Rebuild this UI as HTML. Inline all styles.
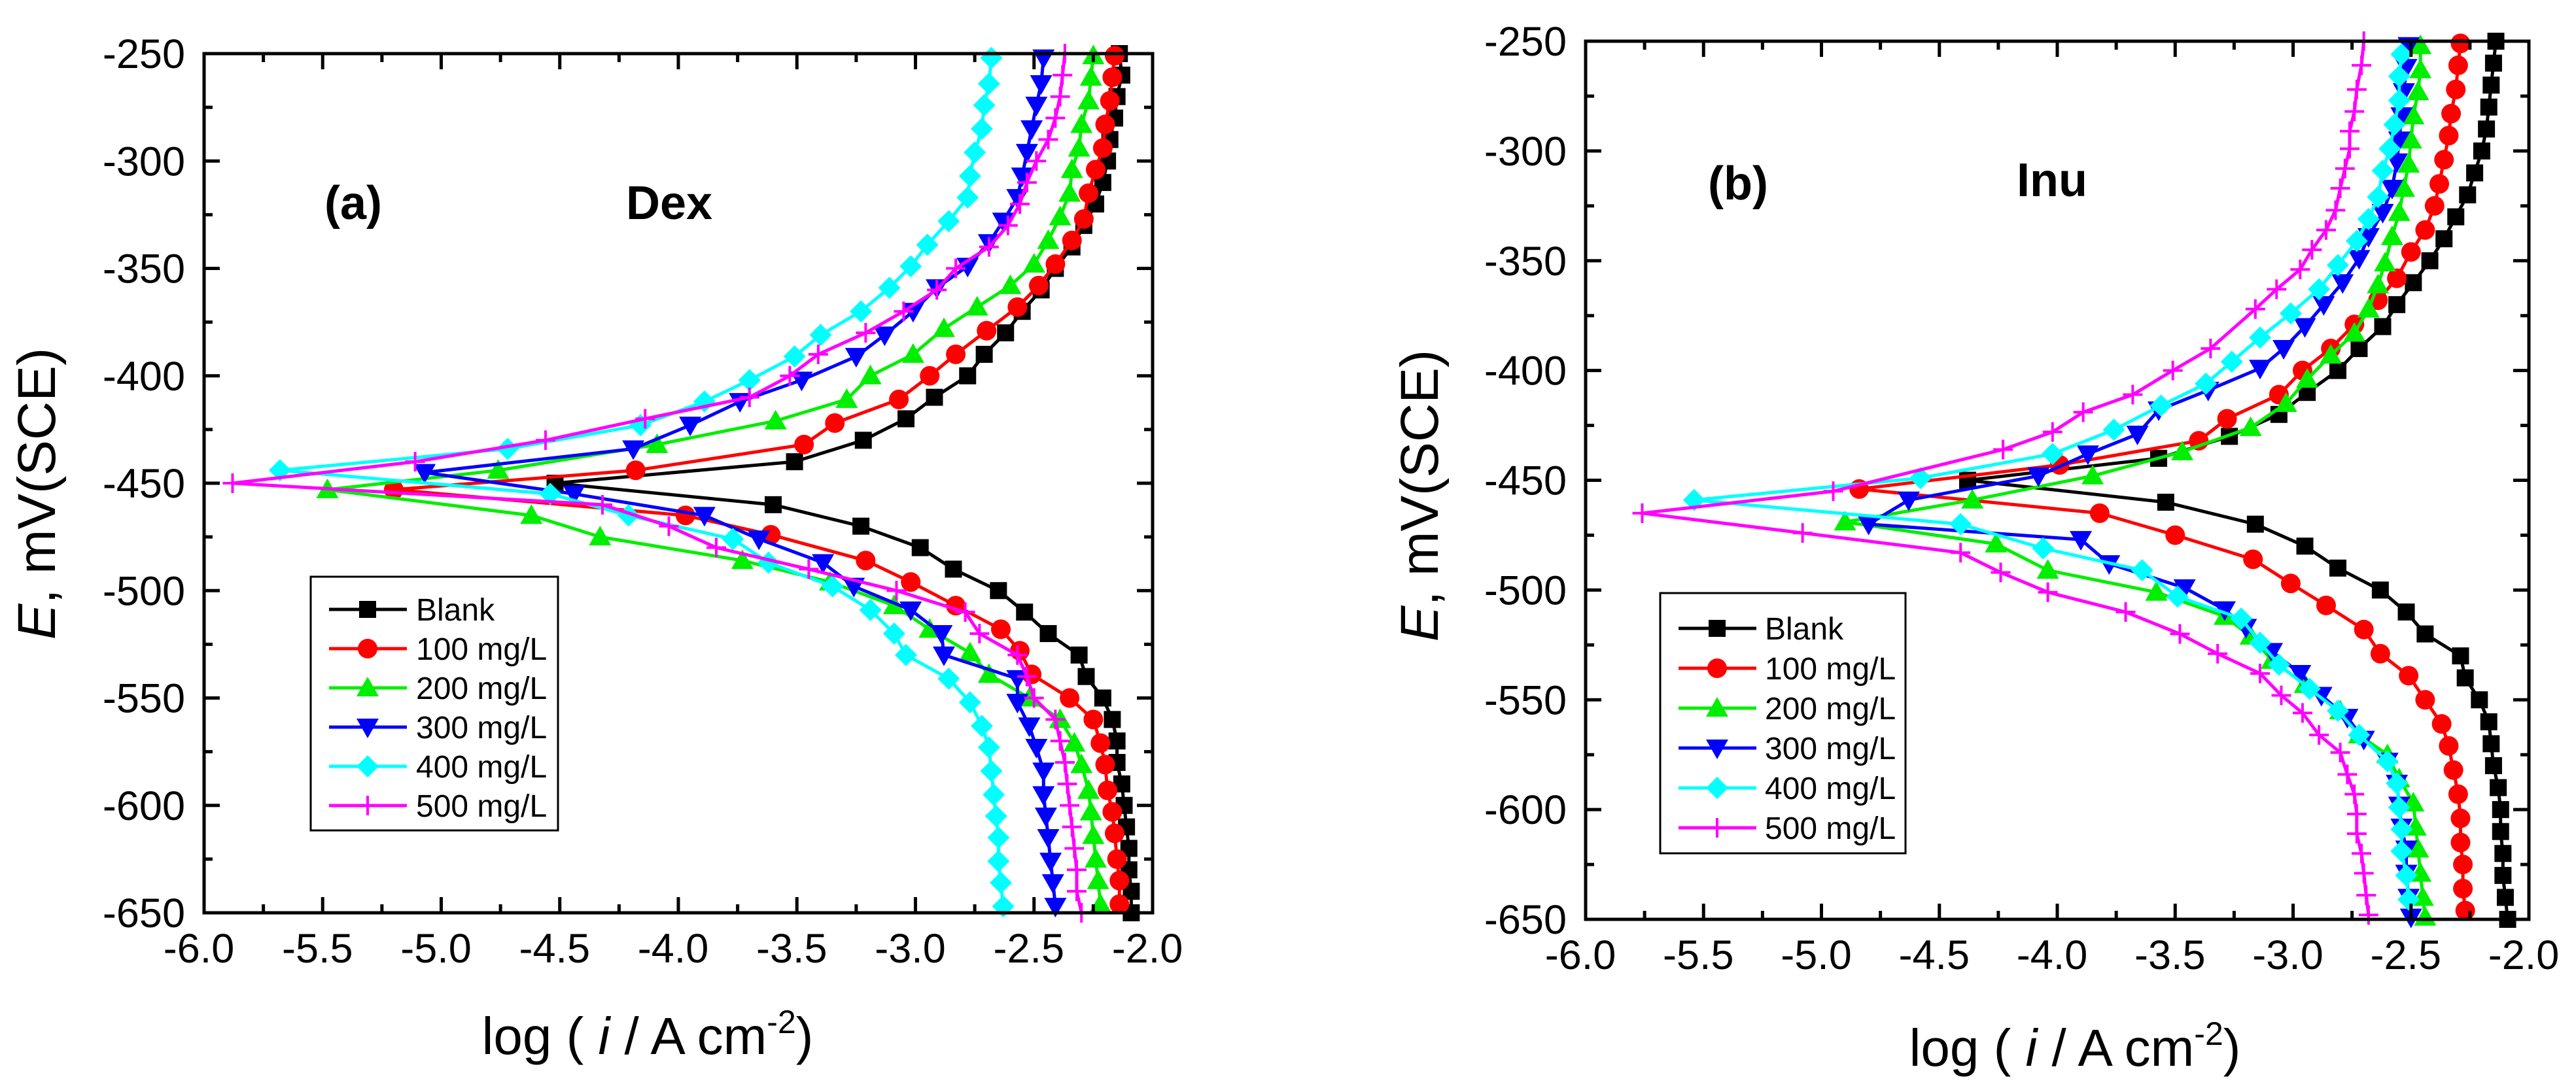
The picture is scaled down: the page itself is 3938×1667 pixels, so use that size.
<!DOCTYPE html>
<html><head><meta charset="utf-8"><style>
html,body{margin:0;padding:0;background:#fff;}
svg{display:block;font-family:"Liberation Sans",Arial,sans-serif;}
</style></head><body>
<svg id="fig" width="3938" height="1667" viewBox="0 0 3938 1667" xmlns="http://www.w3.org/2000/svg"></svg>
<script>
// ---------- Data ----------
const xTicks = [-6.0,-5.5,-5.0,-4.5,-4.0,-3.5,-3.0,-2.5,-2.0];
const xTickLabels = ["-6.0","-5.5","-5.0","-4.5","-4.0","-3.5","-3.0","-2.5","-2.0"];
const yTicks = [-250,-300,-350,-400,-450,-500,-550,-600,-650];
const yTickLabels = ["-250","-300","-350","-400","-450","-500","-550","-600","-650"];
const seriesNames = ["Blank","100 mg/L","200 mg/L","300 mg/L","400 mg/L","500 mg/L"];

// Panel (a) Dex
const dexBlankE = [-250,-260,-270,-280,-290,-300,-310,-320,-330,-340,-350,-360,-370,-380,-390,-400,-410,-420,-430,-440,-450,-460,-470,-480,-490,-500,-510,-520,-530,-540,-550,-560,-570,-580,-590,-600,-610,-620,-630,-640,-650];
const dexBlankLogI = [-2.14,-2.13,-2.15,-2.16,-2.18,-2.19,-2.21,-2.24,-2.29,-2.34,-2.41,-2.47,-2.55,-2.62,-2.71,-2.78,-2.92,-3.04,-3.22,-3.51,-4.52,-3.60,-3.23,-2.98,-2.84,-2.65,-2.54,-2.44,-2.31,-2.28,-2.21,-2.17,-2.15,-2.15,-2.13,-2.12,-2.11,-2.10,-2.10,-2.09,-2.09];
const dex100E = [-251,-261,-272,-283,-294,-304,-315,-327,-337,-348,-358,-368,-379,-390,-400,-411,-422,-432,-444,-453,-465,-474,-486,-496,-507,-518,-528,-539,-550,-560,-571,-581,-593,-603,-613,-625,-635,-646];
const dex100LogI = [-2.16,-2.17,-2.18,-2.20,-2.21,-2.24,-2.27,-2.29,-2.34,-2.41,-2.48,-2.57,-2.70,-2.83,-2.94,-3.07,-3.34,-3.47,-4.18,-5.20,-3.97,-3.61,-3.21,-3.02,-2.83,-2.64,-2.56,-2.51,-2.35,-2.25,-2.22,-2.20,-2.19,-2.17,-2.16,-2.15,-2.14,-2.14];
const dex200E = [-251,-261,-272,-283,-294,-304,-315,-326,-337,-348,-358,-368,-378,-390,-400,-411,-421,-432,-444,-453,-465,-475,-486,-496,-507,-518,-529,-539,-550,-560,-571,-581,-593,-603,-614,-625,-635,-646];
const dex200LogI = [-2.25,-2.26,-2.27,-2.30,-2.31,-2.34,-2.35,-2.39,-2.44,-2.50,-2.60,-2.74,-2.88,-3.01,-3.19,-3.29,-3.59,-4.09,-4.76,-5.48,-4.62,-4.33,-3.73,-3.36,-3.09,-2.94,-2.77,-2.69,-2.52,-2.39,-2.33,-2.30,-2.27,-2.26,-2.25,-2.24,-2.23,-2.22];
const dex300E = [-252,-264,-274,-285,-296,-307,-317,-328,-338,-349,-359,-370,-381,-391,-402,-412,-423,-434,-445,-455,-465,-476,-487,-498,-509,-520,-530,-541,-552,-563,-573,-584,-595,-605,-615,-626,-636,-647];
const dex300LogI = [-2.46,-2.47,-2.49,-2.51,-2.53,-2.55,-2.57,-2.63,-2.69,-2.78,-2.91,-3.01,-3.13,-3.25,-3.48,-3.74,-3.95,-4.19,-5.07,-4.44,-3.89,-3.66,-3.39,-3.26,-3.02,-2.89,-2.88,-2.57,-2.57,-2.52,-2.49,-2.46,-2.46,-2.45,-2.44,-2.43,-2.42,-2.41];
const dex400E = [-252,-264,-274,-285,-296,-307,-317,-328,-339,-349,-359,-370,-381,-391,-402,-412,-423,-434,-444,-455,-465,-476,-487,-498,-509,-520,-530,-541,-552,-563,-573,-584,-595,-605,-615,-626,-636,-647];
const dex400LogI = [-2.68,-2.69,-2.71,-2.72,-2.75,-2.77,-2.78,-2.86,-2.95,-3.02,-3.11,-3.23,-3.40,-3.51,-3.70,-3.89,-4.16,-4.72,-5.68,-4.54,-4.21,-3.77,-3.62,-3.35,-3.19,-3.09,-3.04,-2.86,-2.77,-2.72,-2.69,-2.68,-2.67,-2.66,-2.65,-2.65,-2.64,-2.63];
const dex500E = [-250,-260,-270,-280,-290,-300,-310,-320,-330,-340,-350,-360,-370,-380,-390,-400,-410,-420,-430,-440,-450,-460,-470,-480,-490,-500,-510,-520,-530,-540,-550,-560,-570,-580,-590,-600,-610,-620,-630,-640,-650];
const dex500LogI = [-2.37,-2.38,-2.39,-2.41,-2.44,-2.49,-2.53,-2.56,-2.61,-2.69,-2.83,-2.91,-3.05,-3.21,-3.41,-3.53,-3.70,-4.14,-4.56,-5.11,-5.88,-4.32,-4.04,-3.84,-3.45,-3.08,-2.79,-2.73,-2.57,-2.53,-2.50,-2.41,-2.39,-2.37,-2.36,-2.35,-2.34,-2.33,-2.32,-2.32,-2.30];

// Panel (b) Inu
const inuBlankE = [-250,-260,-270,-280,-290,-300,-310,-320,-330,-340,-350,-360,-370,-380,-390,-400,-410,-420,-430,-440,-450,-460,-470,-480,-490,-500,-510,-520,-530,-540,-550,-560,-570,-580,-590,-600,-610,-620,-630,-640,-650];
const inuBlankLogI = [-2.14,-2.15,-2.16,-2.17,-2.18,-2.20,-2.23,-2.26,-2.31,-2.36,-2.42,-2.49,-2.56,-2.62,-2.72,-2.81,-2.94,-3.06,-3.27,-3.57,-4.38,-3.54,-3.16,-2.95,-2.81,-2.63,-2.52,-2.44,-2.29,-2.27,-2.21,-2.17,-2.16,-2.15,-2.13,-2.12,-2.12,-2.11,-2.11,-2.10,-2.09];
const inu100E = [-251,-261,-272,-283,-293,-304,-315,-325,-336,-346,-358,-368,-379,-390,-400,-411,-422,-432,-443,-454,-465,-475,-486,-497,-507,-518,-529,-539,-550,-561,-571,-582,-593,-604,-615,-625,-636,-646];
const inu100LogI = [-2.29,-2.30,-2.31,-2.33,-2.34,-2.36,-2.38,-2.40,-2.44,-2.50,-2.56,-2.64,-2.74,-2.84,-2.96,-3.06,-3.28,-3.40,-3.99,-4.84,-3.82,-3.50,-3.17,-3.01,-2.86,-2.70,-2.63,-2.51,-2.44,-2.37,-2.34,-2.32,-2.30,-2.29,-2.29,-2.28,-2.28,-2.27];
const inu200E = [-252,-263,-273,-284,-295,-306,-317,-328,-339,-351,-361,-372,-383,-393,-404,-415,-426,-437,-448,-459,-469,-479,-491,-501,-512,-521,-532,-543,-555,-566,-575,-586,-597,-608,-618,-629,-640,-649];
const inu200LogI = [-2.46,-2.46,-2.47,-2.49,-2.50,-2.51,-2.53,-2.55,-2.58,-2.61,-2.64,-2.68,-2.74,-2.84,-2.94,-3.03,-3.18,-3.47,-3.85,-4.36,-4.90,-4.26,-4.04,-3.58,-3.29,-3.18,-3.09,-2.95,-2.80,-2.72,-2.60,-2.55,-2.49,-2.48,-2.47,-2.46,-2.45,-2.44];
const inu300E = [-252,-262,-273,-284,-295,-305,-317,-328,-339,-349,-360,-370,-380,-390,-399,-409,-418,-429,-438,-448,-459,-470,-477,-488,-499,-509,-517,-528,-538,-548,-558,-568,-578,-588,-598,-608,-618,-629,-640,-649];
const inu300LogI = [-2.51,-2.52,-2.53,-2.54,-2.55,-2.56,-2.58,-2.62,-2.68,-2.72,-2.79,-2.87,-2.95,-3.04,-3.14,-3.36,-3.57,-3.66,-3.87,-4.08,-4.63,-4.80,-3.90,-3.78,-3.46,-3.29,-3.20,-3.09,-2.97,-2.88,-2.77,-2.70,-2.60,-2.56,-2.55,-2.54,-2.52,-2.52,-2.51,-2.50];
const inu400E = [-256,-266,-277,-288,-299,-309,-321,-331,-341,-352,-363,-374,-385,-396,-406,-416,-427,-438,-449,-459,-470,-481,-491,-503,-513,-524,-534,-545,-555,-566,-578,-588,-599,-609,-619,-630,-641];
const inu400LogI = [-2.54,-2.55,-2.55,-2.57,-2.59,-2.62,-2.64,-2.68,-2.73,-2.81,-2.89,-3.01,-3.14,-3.26,-3.37,-3.56,-3.76,-4.02,-4.58,-5.54,-4.41,-4.06,-3.64,-3.49,-3.22,-3.14,-3.06,-2.93,-2.81,-2.72,-2.60,-2.56,-2.55,-2.54,-2.54,-2.52,-2.51];
const inu500E = [-250,-261,-272,-282,-291,-299,-308,-317,-327,-336,-345,-354,-363,-372,-390,-400,-411,-419,-428,-436,-455,-465,-474,-483,-492,-501,-510,-520,-529,-538,-548,-556,-566,-574,-584,-593,-602,-611,-620,-629,-639,-648];
const inu500LogI = [-2.70,-2.71,-2.73,-2.74,-2.76,-2.76,-2.78,-2.80,-2.82,-2.86,-2.92,-2.97,-3.07,-3.16,-3.35,-3.51,-3.68,-3.89,-4.02,-4.23,-4.95,-5.76,-5.08,-4.41,-4.24,-4.04,-3.71,-3.48,-3.32,-3.14,-3.05,-2.96,-2.89,-2.80,-2.77,-2.74,-2.73,-2.73,-2.71,-2.70,-2.69,-2.68];

// ---------- Rendering ----------
const NS = "http://www.w3.org/2000/svg";
const svg = document.getElementById('fig');
function mk(tag, attrs, parent) {
  const el = document.createElementNS(NS, tag);
  for (const k in attrs) el.setAttribute(k, attrs[k]);
  (parent || svg).appendChild(el);
  return el;
}
const colors = ["#000000","#ff0000","#00ee00","#0000ff","#00ffff","#ff00ff"];
const shapes = ["square","circle","up","down","diamond","plus"];
const seriesSlugs = ["blank","100","200","300","400","500"];

function marker(g, shape, cx, cy, color) {
  let el;
  const s = 15;
  if (shape === "square") el = mk('rect', {x: cx - 13, y: cy - 13, width: 26, height: 26, fill: color}, g);
  else if (shape === "circle") el = mk('circle', {cx: cx, cy: cy, r: 15, fill: color}, g);
  else if (shape === "up") el = mk('polygon', {points: `${cx},${cy - s - 2} ${cx - s - 2},${cy + s - 2} ${cx + s + 2},${cy + s - 2}`, fill: color}, g);
  else if (shape === "down") el = mk('polygon', {points: `${cx},${cy + s + 2} ${cx - s - 2},${cy - s + 2} ${cx + s + 2},${cy - s + 2}`, fill: color}, g);
  else if (shape === "diamond") el = mk('polygon', {points: `${cx},${cy - 17} ${cx + 17},${cy} ${cx},${cy + 17} ${cx - 17},${cy}`, fill: color}, g);
  else el = mk('path', {d: `M${cx - 15},${cy}H${cx + 15}M${cx},${cy - 15}V${cy + 15}`, stroke: color, 'stroke-width': 4, fill: 'none'}, g);
  
  
  return el;
}

function drawPanel(p) {
  const g = mk('g', {});
  
  
  const sx = v => p.x0 + (v - (-6)) / 4 * (p.x1 - p.x0);
  const sy = v => p.y0 + (-250 - v) / 400 * (p.y1 - p.y0);

  p.series.forEach((s, i) => {
    const sg = mk('g', {}, g);
    
    
    const pts = s.E.map((e, k) => sx(s.L[k]).toFixed(1) + ',' + sy(e).toFixed(1)).join(' ');
    const line = mk('polyline', {points: pts, fill: 'none', stroke: colors[i], 'stroke-width': 5, 'stroke-linejoin': 'round'}, sg);
    
    
    s.E.forEach((e, k) => marker(sg, shapes[i], sx(s.L[k]), sy(e), colors[i]));
  });

  const frame = mk('rect', {x: p.x0, y: p.y0, width: p.x1 - p.x0, height: p.y1 - p.y0, fill: 'none', stroke: '#000', 'stroke-width': 5}, g);
  
  

  let d = '';
  for (let v = -6; v <= -2.0001; v += 0.25) {
    const x = sx(v); const major = Math.abs(v * 2 - Math.round(v * 2)) < 1e-6;
    const L = major ? 24 : 13;
    if (v > -6) d += `M${x},${p.y1}v${-L}M${x},${p.y0}v${L}`;
  }
  for (let v = -275; v >= -625; v -= 25) {
    const y = sy(v); const major = v % 50 === 0;
    const L = major ? 24 : 13;
    d += `M${p.x0},${y}h${L}M${p.x1},${y}h${-L}`;
  }
  const ticks = mk('path', {d: d, stroke: '#000', 'stroke-width': 5, fill: 'none'}, g);
  
  

  xTicks.forEach((v, k) => {
    const t = mk('text', {x: sx(v) - 8, y: p.y1 + 76, 'font-size': 63, 'text-anchor': 'middle'}, g);
    t.textContent = xTickLabels[k];
    
    
  });
  yTicks.forEach((v, k) => {
    const t = mk('text', {x: p.x0 - 29, y: sy(v) + 22, 'font-size': 63, 'text-anchor': 'end'}, g);
    t.textContent = yTickLabels[k];
    
    
  });

  const xt = mk('text', {x: p.xtx, y: p.xty, 'font-size': 80, 'text-anchor': 'middle'}, g);
  xt.innerHTML = 'log ( <tspan font-style="italic">i</tspan> / A cm<tspan dy="-32" font-size="50">-2</tspan><tspan dy="32">)</tspan>';
  
  
  const yt = mk('text', {x: 0, y: 0, 'font-size': 82, 'text-anchor': 'middle', transform: `translate(${p.ytx},${p.yty}) rotate(-90)`}, g);
  yt.innerHTML = '<tspan font-style="italic">E</tspan>, mV(SCE)';
  
  

  const a1 = mk('text', {x: p.labX, y: p.labY, 'font-size': 72, 'font-weight': 'bold', 'text-anchor': 'middle'}, g);
  a1.textContent = p.label;
  
  
  const a2 = mk('text', {x: p.nameX, y: p.nameY, 'font-size': 72, 'font-weight': 'bold', 'text-anchor': 'middle'}, g);
  a2.textContent = p.name;
  
  

  const lg = mk('g', {}, g);
  
  
  const lb = mk('rect', {x: p.lgx0, y: p.lgy0, width: p.lgx1 - p.lgx0, height: p.lgy1 - p.lgy0, fill: '#fff', stroke: '#000', 'stroke-width': 3}, lg);
  
  
  seriesNames.forEach((n, i) => {
    const y = p.lgRow0 + i * p.lgStep;
    const eg = mk('g', {}, lg);
    
    
    mk('line', {x1: p.lgLine0, x2: p.lgLine0 + 119, y1: y, y2: y, stroke: colors[i], 'stroke-width': 5}, eg);
    marker(eg, shapes[i], p.lgLine0 + 59, y, colors[i]);
    const t = mk('text', {x: p.lgText, y: y + 17, 'font-size': 48}, eg);
    t.textContent = n;
    
    
  });
}

drawPanel({
  id: 'dex', x0: 312, x1: 1762, y0: 82, y1: 1396,
  series: [
    {E: dexBlankE, L: dexBlankLogI}, {E: dex100E, L: dex100LogI}, {E: dex200E, L: dex200LogI},
    {E: dex300E, L: dex300LogI}, {E: dex400E, L: dex400LogI}, {E: dex500E, L: dex500LogI}
  ],
  xtx: 990, xty: 1612, ytx: 84, yty: 755,
  label: '(a)', labX: 540, labY: 335, name: 'Dex', nameX: 1023, nameY: 335,
  lgx0: 475, lgx1: 853, lgy0: 882, lgy1: 1270, lgRow0: 932, lgStep: 60, lgLine0: 503, lgText: 636
});
drawPanel({
  id: 'inu', x0: 2424, x1: 3866, y0: 63, y1: 1406,
  series: [
    {E: inuBlankE, L: inuBlankLogI}, {E: inu100E, L: inu100LogI}, {E: inu200E, L: inu200LogI},
    {E: inu300E, L: inu300LogI}, {E: inu400E, L: inu400LogI}, {E: inu500E, L: inu500LogI}
  ],
  xtx: 3172, xty: 1630, ytx: 2198, yty: 758,
  label: '(b)', labX: 2657, labY: 305, name: 'Inu', nameX: 3137, nameY: 300,
  lgx0: 2538, lgx1: 2913, lgy0: 907, lgy1: 1305, lgRow0: 961, lgStep: 61, lgLine0: 2566, lgText: 2698
});
</script>
</body></html>
